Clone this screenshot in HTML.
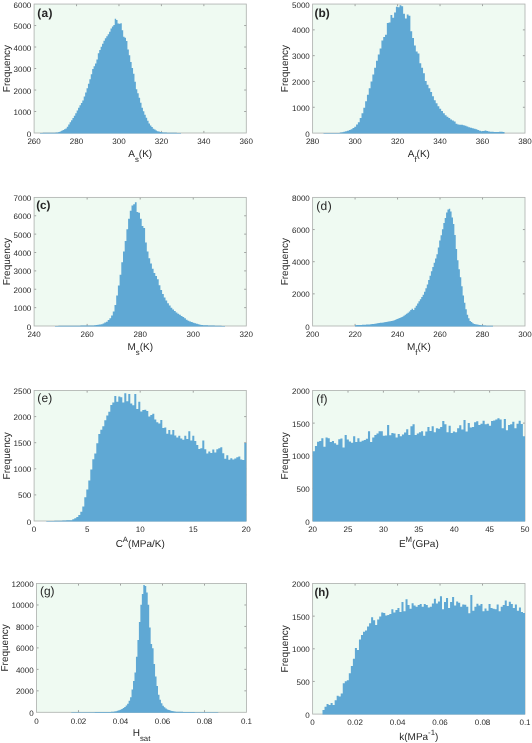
<!DOCTYPE html>
<html lang="en"><head><meta charset="utf-8"><title>Histograms</title>
<style>html,body{margin:0;padding:0;background:#fff;}body{width:532px;height:743px;overflow:hidden;}svg{display:block;}text{font-family:"Liberation Sans", sans-serif;fill:#262626;text-rendering:geometricPrecision;}</style>
</head><body>
<svg width="532" height="743" viewBox="0 0 532 743">
<rect x="0" y="0" width="532" height="743" fill="#ffffff"/>
<g>
<rect x="34.10" y="4.05" width="212.20" height="128.95" fill="#effaf2"/>
<path d="M76.54,133.00V130.90M76.54,4.05V6.15M118.98,133.00V130.90M118.98,4.05V6.15M161.42,133.00V130.90M161.42,4.05V6.15M203.86,133.00V130.90M203.86,4.05V6.15M34.10,111.51H36.20M246.30,111.51H244.20M34.10,90.02H36.20M246.30,90.02H244.20M34.10,68.53H36.20M246.30,68.53H244.20M34.10,47.03H36.20M246.30,47.03H244.20M34.10,25.54H36.20M246.30,25.54H244.20" stroke="#858585" stroke-width="0.75" fill="none"/>
<rect x="34.10" y="4.05" width="212.20" height="128.95" fill="none" stroke="#b0b3b1" stroke-width="0.85"/>
<path d="M40.00,133.40L40.00,132.90L41.41,132.90L41.41,132.88L42.82,132.88L42.82,132.87L44.23,132.87L44.23,132.85L45.64,132.85L45.64,132.84L47.05,132.84L47.05,132.83L48.46,132.83L48.46,132.81L49.87,132.81L49.87,132.79L51.28,132.79L51.28,132.74L52.69,132.74L52.69,132.68L54.10,132.68L54.10,132.63L55.51,132.63L55.51,132.57L56.92,132.57L56.92,132.51L58.33,132.51L58.33,132.06L59.74,132.06L59.74,131.46L61.15,131.46L61.15,130.86L62.56,130.86L62.56,130.09L63.97,130.09L63.97,129.29L65.38,129.29L65.38,128.49L66.79,128.49L66.79,126.76L68.20,126.76L68.20,124.50L69.61,124.50L69.61,122.27L71.02,122.27L71.02,120.13L72.43,120.13L72.43,117.99L73.84,117.99L73.84,115.84L75.25,115.84L75.25,113.31L76.66,113.31L76.66,110.53L78.07,110.53L78.07,107.74L79.48,107.74L79.48,105.26L80.89,105.26L80.89,102.88L82.30,102.88L82.30,100.49L83.71,100.49L83.71,96.56L85.12,96.56L85.12,92.62L86.53,92.62L86.53,88.33L87.94,88.33L87.94,83.84L89.35,83.84L89.35,79.17L90.76,79.17L90.76,74.13L92.17,74.13L92.17,69.09L93.58,69.09L93.58,66.23L94.99,66.23L94.99,63.41L96.40,63.41L96.40,59.43L97.81,59.43L97.81,53.37L99.22,53.37L99.22,50.02L100.63,50.02L100.63,46.85L102.04,46.85L102.04,43.74L103.45,43.74L103.45,40.65L104.86,40.65L104.86,38.37L106.27,38.37L106.27,36.35L107.68,36.35L107.68,34.33L109.09,34.33L109.09,31.72L110.50,31.72L110.50,28.52L111.91,28.52L111.91,26.41L113.32,26.41L113.32,24.89L114.73,24.89L114.73,18.82L116.14,18.82L116.14,20.10L117.55,20.10L117.55,23.57L118.96,23.57L118.96,23.64L120.37,23.64L120.37,23.31L121.78,23.31L121.78,30.19L123.19,30.19L123.19,36.80L124.60,36.80L124.60,37.76L126.01,37.76L126.01,40.93L127.42,40.93L127.42,49.50L128.83,49.50L128.83,55.17L130.24,55.17L130.24,62.00L131.65,62.00L131.65,67.92L133.06,67.92L133.06,73.82L134.47,73.82L134.47,81.67L135.88,81.67L135.88,89.24L137.29,89.24L137.29,93.37L138.70,93.37L138.70,97.69L140.11,97.69L140.11,102.73L141.52,102.73L141.52,107.77L142.93,107.77L142.93,111.36L144.34,111.36L144.34,114.73L145.75,114.73L145.75,117.83L147.16,117.83L147.16,120.69L148.57,120.69L148.57,123.54L149.98,123.54L149.98,125.45L151.39,125.45L151.39,127.07L152.80,127.07L152.80,128.69L154.21,128.69L154.21,129.61L155.62,129.61L155.62,130.48L157.03,130.48L157.03,131.25L158.44,131.25L158.44,131.57L159.85,131.57L159.85,131.89L161.26,131.89L161.26,132.21L162.67,132.21L162.67,132.43L164.08,132.43L164.08,132.50L165.49,132.50L165.49,132.57L166.90,132.57L166.90,132.64L168.31,132.64L168.31,132.71L169.72,132.71L169.72,132.79L171.13,132.79L171.13,132.82L172.54,132.82L172.54,132.83L173.95,132.83L173.95,132.85L175.36,132.85L175.36,132.87L176.77,132.87L176.77,132.89L178.18,132.89L178.18,132.91L179.59,132.91L179.59,132.93L181.00,132.93L181.00,133.40Z" fill="#5fa8d4"/>
<text x="34.10" y="144.20" font-size="8.0" text-anchor="middle">260</text>
<text x="76.54" y="144.20" font-size="8.0" text-anchor="middle">280</text>
<text x="118.98" y="144.20" font-size="8.0" text-anchor="middle">300</text>
<text x="161.42" y="144.20" font-size="8.0" text-anchor="middle">320</text>
<text x="203.86" y="144.20" font-size="8.0" text-anchor="middle">340</text>
<text x="246.30" y="144.20" font-size="8.0" text-anchor="middle">360</text>
<text x="31.30" y="136.50" font-size="8.0" text-anchor="end">0</text>
<text x="31.30" y="115.01" font-size="8.0" text-anchor="end">1000</text>
<text x="31.30" y="93.52" font-size="8.0" text-anchor="end">2000</text>
<text x="31.30" y="72.03" font-size="8.0" text-anchor="end">3000</text>
<text x="31.30" y="50.53" font-size="8.0" text-anchor="end">4000</text>
<text x="31.30" y="29.04" font-size="8.0" text-anchor="end">5000</text>
<text x="31.30" y="7.55" font-size="8.0" text-anchor="end">6000</text>
<text transform="translate(9.60,68.53) rotate(-90)" font-size="10.0" text-anchor="middle">Frequency</text>
<text x="128.25" y="156.50" font-size="10.0">A</text>
<text x="134.92" y="161.50" font-size="7.8">s</text>
<text x="138.82" y="156.50" font-size="10.0">(K)</text>
<text x="37.20" y="16.60" font-size="11.9" font-weight="bold" letter-spacing="0.4">(a)</text>
</g>
<g>
<rect x="312.60" y="4.05" width="212.40" height="129.05" fill="#effaf2"/>
<path d="M355.08,133.10V131.00M355.08,4.05V6.15M397.56,133.10V131.00M397.56,4.05V6.15M440.04,133.10V131.00M440.04,4.05V6.15M482.52,133.10V131.00M482.52,4.05V6.15M312.60,107.29H314.70M525.00,107.29H522.90M312.60,81.48H314.70M525.00,81.48H522.90M312.60,55.67H314.70M525.00,55.67H522.90M312.60,29.86H314.70M525.00,29.86H522.90" stroke="#858585" stroke-width="0.75" fill="none"/>
<rect x="312.60" y="4.05" width="212.40" height="129.05" fill="none" stroke="#b0b3b1" stroke-width="0.85"/>
<path d="M323.50,133.50L323.50,133.11L325.31,133.11L325.31,133.09L327.12,133.09L327.12,133.06L328.93,133.06L328.93,133.04L330.74,133.04L330.74,133.01L332.55,133.01L332.55,132.99L334.36,132.99L334.36,132.96L336.17,132.96L336.17,132.93L337.98,132.93L337.98,132.91L339.79,132.91L339.79,132.61L341.60,132.61L341.60,132.19L343.41,132.19L343.41,131.78L345.22,131.78L345.22,131.36L347.03,131.36L347.03,130.71L348.84,130.71L348.84,130.06L350.65,130.06L350.65,129.32L352.46,129.32L352.46,128.07L354.27,128.07L354.27,126.82L356.08,126.82L356.08,124.48L357.89,124.48L357.89,122.13L359.70,122.13L359.70,118.03L361.51,118.03L361.51,113.13L363.32,113.13L363.32,107.63L365.13,107.63L365.13,101.25L366.94,101.25L366.94,94.78L368.75,94.78L368.75,88.25L370.56,88.25L370.56,81.59L372.37,81.59L372.37,74.55L374.18,74.55L374.18,67.87L375.99,67.87L375.99,60.76L377.80,60.76L377.80,54.54L379.61,54.54L379.61,48.55L381.42,48.55L381.42,40.55L383.23,40.55L383.23,36.93L385.04,36.93L385.04,34.83L386.85,34.83L386.85,23.00L388.66,23.00L388.66,22.40L390.47,22.40L390.47,15.10L392.28,15.10L392.28,17.80L394.09,17.80L394.09,12.50L395.90,12.50L395.90,6.80L397.71,6.80L397.71,7.20L399.52,7.20L399.52,5.30L401.33,5.30L401.33,6.20L403.14,6.20L403.14,13.80L404.95,13.80L404.95,18.40L406.76,18.40L406.76,14.50L408.57,14.50L408.57,15.80L410.38,15.80L410.38,31.33L412.19,31.33L412.19,37.93L414.00,37.93L414.00,45.39L415.81,45.39L415.81,51.50L417.62,51.50L417.62,53.48L419.43,53.48L419.43,63.29L421.24,63.29L421.24,67.63L423.05,67.63L423.05,73.15L424.86,73.15L424.86,81.03L426.67,81.03L426.67,84.65L428.48,84.65L428.48,88.27L430.29,88.27L430.29,92.01L432.10,92.01L432.10,96.34L433.91,96.34L433.91,100.24L435.72,100.24L435.72,103.30L437.53,103.30L437.53,106.24L439.34,106.24L439.34,108.64L441.15,108.64L441.15,111.04L442.96,111.04L442.96,113.18L444.77,113.18L444.77,115.32L446.58,115.32L446.58,116.79L448.39,116.79L448.39,118.12L450.20,118.12L450.20,119.46L452.01,119.46L452.01,120.52L453.82,120.52L453.82,121.56L455.63,121.56L455.63,123.83L457.44,123.83L457.44,124.46L459.25,124.46L459.25,124.66L461.06,124.66L461.06,124.85L462.87,124.85L462.87,125.14L464.68,125.14L464.68,125.82L466.49,125.82L466.49,126.51L468.30,126.51L468.30,127.15L470.11,127.15L470.11,127.68L471.92,127.68L471.92,128.21L473.73,128.21L473.73,128.73L475.54,128.73L475.54,129.35L477.35,129.35L477.35,130.01L479.16,130.01L479.16,130.67L480.97,130.67L480.97,131.29L482.78,131.29L482.78,130.92L484.59,130.92L484.59,130.56L486.40,130.56L486.40,130.92L488.21,130.92L488.21,131.44L490.02,131.44L490.02,131.69L491.83,131.69L491.83,131.83L493.64,131.83L493.64,131.97L495.45,131.97L495.45,132.11L497.26,132.11L497.26,132.11L499.07,132.11L499.07,131.83L500.88,131.83L500.88,131.64L502.69,131.64L502.69,132.00L504.50,132.00L504.50,133.50Z" fill="#5fa8d4"/>
<text x="312.60" y="144.30" font-size="8.0" text-anchor="middle">280</text>
<text x="355.08" y="144.30" font-size="8.0" text-anchor="middle">300</text>
<text x="397.56" y="144.30" font-size="8.0" text-anchor="middle">320</text>
<text x="440.04" y="144.30" font-size="8.0" text-anchor="middle">340</text>
<text x="482.52" y="144.30" font-size="8.0" text-anchor="middle">360</text>
<text x="525.00" y="144.30" font-size="8.0" text-anchor="middle">380</text>
<text x="309.80" y="136.60" font-size="8.0" text-anchor="end">0</text>
<text x="309.80" y="110.79" font-size="8.0" text-anchor="end">1000</text>
<text x="309.80" y="84.98" font-size="8.0" text-anchor="end">2000</text>
<text x="309.80" y="59.17" font-size="8.0" text-anchor="end">3000</text>
<text x="309.80" y="33.36" font-size="8.0" text-anchor="end">4000</text>
<text x="309.80" y="7.55" font-size="8.0" text-anchor="end">5000</text>
<text transform="translate(288.10,68.58) rotate(-90)" font-size="10.0" text-anchor="middle">Frequency</text>
<text x="407.72" y="156.60" font-size="10.0">A</text>
<text x="414.39" y="161.60" font-size="7.8">f</text>
<text x="416.55" y="156.60" font-size="10.0">(K)</text>
<text x="314.60" y="16.80" font-size="11.9" font-weight="bold">(b)</text>
</g>
<g>
<rect x="34.10" y="197.40" width="212.20" height="128.60" fill="#effaf2"/>
<path d="M87.15,326.00V323.90M87.15,197.40V199.50M140.20,326.00V323.90M140.20,197.40V199.50M193.25,326.00V323.90M193.25,197.40V199.50M34.10,307.63H36.20M246.30,307.63H244.20M34.10,289.26H36.20M246.30,289.26H244.20M34.10,270.89H36.20M246.30,270.89H244.20M34.10,252.51H36.20M246.30,252.51H244.20M34.10,234.14H36.20M246.30,234.14H244.20M34.10,215.77H36.20M246.30,215.77H244.20" stroke="#858585" stroke-width="0.75" fill="none"/>
<rect x="34.10" y="197.40" width="212.20" height="128.60" fill="none" stroke="#b0b3b1" stroke-width="0.85"/>
<path d="M55.00,326.40L55.00,325.90L56.70,325.90L56.70,325.88L58.40,325.88L58.40,325.86L60.10,325.86L60.10,325.85L61.80,325.85L61.80,325.83L63.50,325.83L63.50,325.81L65.20,325.81L65.20,325.79L66.90,325.79L66.90,325.78L68.60,325.78L68.60,325.76L70.30,325.76L70.30,325.74L72.00,325.74L72.00,325.73L73.70,325.73L73.70,325.71L75.40,325.71L75.40,325.69L77.10,325.69L77.10,325.66L78.80,325.66L78.80,325.63L80.50,325.63L80.50,325.60L82.20,325.60L82.20,325.58L83.90,325.58L83.90,325.55L85.60,325.55L85.60,325.52L87.30,325.52L87.30,325.49L89.00,325.49L89.00,325.46L90.70,325.46L90.70,325.44L92.40,325.44L92.40,325.41L94.10,325.41L94.10,325.24L95.80,325.24L95.80,325.02L97.50,325.02L97.50,324.80L99.20,324.80L99.20,324.59L100.90,324.59L100.90,324.28L102.60,324.28L102.60,323.44L104.30,323.44L104.30,322.61L106.00,322.61L106.00,321.75L107.70,321.75L107.70,320.05L109.40,320.05L109.40,318.35L111.10,318.35L111.10,315.50L112.80,315.50L112.80,311.61L114.50,311.61L114.50,304.90L116.20,304.90L116.20,295.58L117.90,295.58L117.90,285.57L119.60,285.57L119.60,274.77L121.30,274.77L121.30,262.27L123.00,262.27L123.00,251.60L124.70,251.60L124.70,241.10L126.40,241.10L126.40,229.20L128.10,229.20L128.10,218.70L129.80,218.70L129.80,210.80L131.50,210.80L131.50,205.50L133.20,205.50L133.20,204.20L134.90,204.20L134.90,202.20L136.60,202.20L136.60,212.10L138.30,212.10L138.30,212.80L140.00,212.80L140.00,218.70L141.70,218.70L141.70,225.90L143.40,225.90L143.40,227.90L145.10,227.90L145.10,242.60L146.80,242.60L146.80,251.60L148.50,251.60L148.50,258.20L150.20,258.20L150.20,263.40L151.90,263.40L151.90,268.63L153.60,268.63L153.60,273.07L155.30,273.07L155.30,275.95L157.00,275.95L157.00,279.28L158.70,279.28L158.70,285.30L160.40,285.30L160.40,290.02L162.10,290.02L162.10,293.93L163.80,293.93L163.80,297.56L165.50,297.56L165.50,300.44L167.20,300.44L167.20,303.32L168.90,303.32L168.90,305.55L170.60,305.55L170.60,307.75L172.30,307.75L172.30,309.53L174.00,309.53L174.00,311.03L175.70,311.03L175.70,312.54L177.40,312.54L177.40,313.79L179.10,313.79L179.10,314.85L180.80,314.85L180.80,315.91L182.50,315.91L182.50,317.07L184.20,317.07L184.20,318.35L185.90,318.35L185.90,319.63L187.60,319.63L187.60,320.72L189.30,320.72L189.30,321.40L191.00,321.40L191.00,322.08L192.70,322.08L192.70,322.76L194.40,322.76L194.40,323.34L196.10,323.34L196.10,323.83L197.80,323.83L197.80,324.32L199.50,324.32L199.50,324.81L201.20,324.81L201.20,325.06L202.90,325.06L202.90,325.14L204.60,325.14L204.60,325.23L206.30,325.23L206.30,325.32L208.00,325.32L208.00,325.41L209.70,325.41L209.70,325.50L211.40,325.50L211.40,325.56L213.10,325.56L213.10,325.62L214.80,325.62L214.80,325.67L216.50,325.67L216.50,325.73L218.20,325.73L218.20,325.78L219.90,325.78L219.90,325.84L221.60,325.84L221.60,325.90L223.30,325.90L223.30,325.91L225.00,325.91L225.00,326.40Z" fill="#5fa8d4"/>
<text x="34.10" y="337.20" font-size="8.0" text-anchor="middle">240</text>
<text x="87.15" y="337.20" font-size="8.0" text-anchor="middle">260</text>
<text x="140.20" y="337.20" font-size="8.0" text-anchor="middle">280</text>
<text x="193.25" y="337.20" font-size="8.0" text-anchor="middle">300</text>
<text x="246.30" y="337.20" font-size="8.0" text-anchor="middle">320</text>
<text x="31.30" y="329.50" font-size="8.0" text-anchor="end">0</text>
<text x="31.30" y="311.13" font-size="8.0" text-anchor="end">1000</text>
<text x="31.30" y="292.76" font-size="8.0" text-anchor="end">2000</text>
<text x="31.30" y="274.39" font-size="8.0" text-anchor="end">3000</text>
<text x="31.30" y="256.01" font-size="8.0" text-anchor="end">4000</text>
<text x="31.30" y="237.64" font-size="8.0" text-anchor="end">5000</text>
<text x="31.30" y="219.27" font-size="8.0" text-anchor="end">6000</text>
<text x="31.30" y="200.90" font-size="8.0" text-anchor="end">7000</text>
<text transform="translate(9.60,261.70) rotate(-90)" font-size="10.0" text-anchor="middle">Frequency</text>
<text x="127.42" y="349.50" font-size="10.0">M</text>
<text x="135.75" y="354.50" font-size="7.8">s</text>
<text x="139.65" y="349.50" font-size="10.0">(K)</text>
<text x="36.20" y="208.60" font-size="11.7" font-weight="bold">(c)</text>
</g>
<g>
<rect x="312.60" y="197.40" width="212.40" height="128.60" fill="#effaf2"/>
<path d="M355.08,326.00V323.90M355.08,197.40V199.50M397.56,326.00V323.90M397.56,197.40V199.50M440.04,326.00V323.90M440.04,197.40V199.50M482.52,326.00V323.90M482.52,197.40V199.50M312.60,293.85H314.70M525.00,293.85H522.90M312.60,261.70H314.70M525.00,261.70H522.90M312.60,229.55H314.70M525.00,229.55H522.90" stroke="#858585" stroke-width="0.75" fill="none"/>
<rect x="312.60" y="197.40" width="212.40" height="128.60" fill="none" stroke="#b0b3b1" stroke-width="0.85"/>
<path d="M355.00,326.40L355.00,325.19L356.38,325.19L356.38,325.11L357.76,325.11L357.76,325.04L359.14,325.04L359.14,324.96L360.52,324.96L360.52,324.89L361.90,324.89L361.90,324.81L363.28,324.81L363.28,324.74L364.66,324.74L364.66,324.66L366.04,324.66L366.04,324.59L367.42,324.59L367.42,324.51L368.80,324.51L368.80,324.44L370.18,324.44L370.18,324.30L371.56,324.30L371.56,324.09L372.94,324.09L372.94,323.88L374.32,323.88L374.32,323.67L375.70,323.67L375.70,323.46L377.08,323.46L377.08,323.25L378.46,323.25L378.46,323.04L379.84,323.04L379.84,322.83L381.22,322.83L381.22,322.63L382.60,322.63L382.60,322.42L383.98,322.42L383.98,322.17L385.36,322.17L385.36,321.92L386.74,321.92L386.74,321.67L388.12,321.67L388.12,321.42L389.50,321.42L389.50,321.17L390.88,321.17L390.88,320.92L392.26,320.92L392.26,320.67L393.64,320.67L393.64,320.31L395.02,320.31L395.02,319.71L396.40,319.71L396.40,319.11L397.78,319.11L397.78,318.51L399.16,318.51L399.16,317.91L400.54,317.91L400.54,317.31L401.92,317.31L401.92,316.71L403.30,316.71L403.30,315.85L404.68,315.85L404.68,314.83L406.06,314.83L406.06,313.81L407.44,313.81L407.44,312.80L408.82,312.80L408.82,311.40L410.20,311.40L410.20,309.91L411.58,309.91L411.58,308.79L412.96,308.79L412.96,309.97L414.34,309.97L414.34,307.87L415.72,307.87L415.72,305.73L417.10,305.73L417.10,303.54L418.48,303.54L418.48,301.35L419.86,301.35L419.86,299.16L421.24,299.16L421.24,296.99L422.62,296.99L422.62,294.81L424.00,294.81L424.00,291.76L425.38,291.76L425.38,288.35L426.76,288.35L426.76,284.53L428.14,284.53L428.14,280.10L429.52,280.10L429.52,275.67L430.90,275.67L430.90,271.28L432.28,271.28L432.28,266.89L433.66,266.89L433.66,262.65L435.04,262.65L435.04,258.51L436.42,258.51L436.42,254.14L437.80,254.14L437.80,247.43L439.18,247.43L439.18,240.55L440.56,240.55L440.56,235.14L441.94,235.14L441.94,229.36L443.32,229.36L443.32,223.01L444.70,223.01L444.70,218.12L446.08,218.12L446.08,212.51L447.46,212.51L447.46,209.46L448.84,209.46L448.84,208.87L450.22,208.87L450.22,211.51L451.60,211.51L451.60,217.48L452.98,217.48L452.98,223.92L454.36,223.92L454.36,235.07L455.74,235.07L455.74,248.88L457.12,248.88L457.12,260.30L458.50,260.30L458.50,269.14L459.88,269.14L459.88,277.28L461.26,277.28L461.26,286.21L462.64,286.21L462.64,295.41L464.02,295.41L464.02,302.65L465.40,302.65L465.40,309.25L466.78,309.25L466.78,314.84L468.16,314.84L468.16,318.34L469.54,318.34L469.54,320.94L470.92,320.94L470.92,322.08L472.30,322.08L472.30,323.21L473.68,323.21L473.68,323.94L475.06,323.94L475.06,324.22L476.44,324.22L476.44,324.51L477.82,324.51L477.82,324.79L479.20,324.79L479.20,325.07L480.58,325.07L480.58,325.26L481.96,325.26L481.96,325.36L483.34,325.36L483.34,325.46L484.72,325.46L484.72,325.57L486.10,325.57L486.10,325.67L487.48,325.67L487.48,325.78L488.86,325.78L488.86,325.82L490.24,325.82L490.24,325.84L491.62,325.84L491.62,325.86L493.00,325.86L493.00,326.40Z" fill="#5fa8d4"/>
<text x="312.60" y="337.20" font-size="8.0" text-anchor="middle">200</text>
<text x="355.08" y="337.20" font-size="8.0" text-anchor="middle">220</text>
<text x="397.56" y="337.20" font-size="8.0" text-anchor="middle">240</text>
<text x="440.04" y="337.20" font-size="8.0" text-anchor="middle">260</text>
<text x="482.52" y="337.20" font-size="8.0" text-anchor="middle">280</text>
<text x="525.00" y="337.20" font-size="8.0" text-anchor="middle">300</text>
<text x="309.80" y="329.50" font-size="8.0" text-anchor="end">0</text>
<text x="309.80" y="297.35" font-size="8.0" text-anchor="end">2000</text>
<text x="309.80" y="265.20" font-size="8.0" text-anchor="end">4000</text>
<text x="309.80" y="233.05" font-size="8.0" text-anchor="end">6000</text>
<text x="309.80" y="200.90" font-size="8.0" text-anchor="end">8000</text>
<text transform="translate(288.10,261.70) rotate(-90)" font-size="10.0" text-anchor="middle">Frequency</text>
<text x="406.89" y="349.50" font-size="10.0">M</text>
<text x="415.22" y="354.50" font-size="7.8">f</text>
<text x="417.38" y="349.50" font-size="10.0">(K)</text>
<text x="316.20" y="210.30" font-size="12.0" letter-spacing="0.4">(d)</text>
</g>
<g>
<rect x="34.10" y="390.50" width="212.20" height="130.50" fill="#effaf2"/>
<path d="M87.15,521.00V518.90M87.15,390.50V392.60M140.20,521.00V518.90M140.20,390.50V392.60M193.25,521.00V518.90M193.25,390.50V392.60M34.10,494.90H36.20M246.30,494.90H244.20M34.10,468.80H36.20M246.30,468.80H244.20M34.10,442.70H36.20M246.30,442.70H244.20M34.10,416.60H36.20M246.30,416.60H244.20" stroke="#858585" stroke-width="0.75" fill="none"/>
<rect x="34.10" y="390.50" width="212.20" height="130.50" fill="none" stroke="#b0b3b1" stroke-width="0.85"/>
<path d="M46.30,521.40L46.30,520.99L48.30,520.99L48.30,520.96L50.30,520.96L50.30,520.93L52.30,520.93L52.30,520.89L54.30,520.89L54.30,520.86L56.30,520.86L56.30,520.82L58.30,520.82L58.30,520.76L60.30,520.76L60.30,520.66L62.30,520.66L62.30,520.56L64.30,520.56L64.30,520.46L66.30,520.46L66.30,520.36L68.30,520.36L68.30,520.26L70.30,520.26L70.30,520.20L72.30,520.20L72.30,519.30L74.30,519.30L74.30,518.20L76.30,518.20L76.30,517.00L78.30,517.00L78.30,515.00L80.30,515.00L80.30,511.80L82.30,511.80L82.30,506.40L84.30,506.40L84.30,497.20L86.30,497.20L86.30,489.60L88.30,489.60L88.30,480.40L90.30,480.40L90.30,469.40L92.30,469.40L92.30,459.20L94.30,459.20L94.30,453.50L96.30,453.50L96.30,443.30L98.30,443.30L98.30,434.10L100.30,434.10L100.30,429.80L102.30,429.80L102.30,426.20L104.30,426.20L104.30,420.20L106.30,420.20L106.30,415.60L108.30,415.60L108.30,411.70L110.30,411.70L110.30,405.10L112.30,405.10L112.30,402.50L114.30,402.50L114.30,395.90L116.30,395.90L116.30,401.80L118.30,401.80L118.30,396.60L120.30,396.60L120.30,397.20L122.30,397.20L122.30,402.50L124.30,402.50L124.30,393.30L126.30,393.30L126.30,401.20L128.30,401.20L128.30,393.90L130.30,393.90L130.30,403.50L132.30,403.50L132.30,405.20L134.30,405.20L134.30,393.90L136.30,393.90L136.30,409.00L138.30,409.00L138.30,401.80L140.30,401.80L140.30,411.50L142.30,411.50L142.30,410.00L144.30,410.00L144.30,409.70L146.30,409.70L146.30,411.00L148.30,411.00L148.30,416.50L150.30,416.50L150.30,415.00L152.30,415.00L152.30,413.70L154.30,413.70L154.30,419.50L156.30,419.50L156.30,422.30L158.30,422.30L158.30,423.60L160.30,423.60L160.30,420.00L162.30,420.00L162.30,427.90L164.30,427.90L164.30,427.50L166.30,427.50L166.30,433.80L168.30,433.80L168.30,429.90L170.30,429.90L170.30,434.50L172.30,434.50L172.30,429.90L174.30,429.90L174.30,435.50L176.30,435.50L176.30,437.40L178.30,437.40L178.30,435.80L180.30,435.80L180.30,438.50L182.30,438.50L182.30,439.70L184.30,439.70L184.30,435.80L186.30,435.80L186.30,439.00L188.30,439.00L188.30,431.20L190.30,431.20L190.30,440.40L192.30,440.40L192.30,435.80L194.30,435.80L194.30,441.00L196.30,441.00L196.30,445.00L198.30,445.00L198.30,449.00L200.30,449.00L200.30,448.30L202.30,448.30L202.30,440.40L204.30,440.40L204.30,449.30L206.30,449.30L206.30,453.50L208.30,453.50L208.30,451.40L210.30,451.40L210.30,452.90L212.30,452.90L212.30,449.60L214.30,449.60L214.30,452.60L216.30,452.60L216.30,449.30L218.30,449.30L218.30,448.20L220.30,448.20L220.30,447.20L222.30,447.20L222.30,453.20L224.30,453.20L224.30,458.80L226.30,458.80L226.30,455.30L228.30,455.30L228.30,459.70L230.30,459.70L230.30,458.20L232.30,458.20L232.30,459.60L234.30,459.60L234.30,458.50L236.30,458.50L236.30,457.20L238.30,457.20L238.30,456.40L240.30,456.40L240.30,459.50L242.30,459.50L242.30,460.00L244.30,460.00L244.30,443.00L246.30,443.00L246.30,521.40Z" fill="#5fa8d4"/>
<text x="34.10" y="532.20" font-size="8.0" text-anchor="middle">0</text>
<text x="87.15" y="532.20" font-size="8.0" text-anchor="middle">5</text>
<text x="140.20" y="532.20" font-size="8.0" text-anchor="middle">10</text>
<text x="193.25" y="532.20" font-size="8.0" text-anchor="middle">15</text>
<text x="246.30" y="532.20" font-size="8.0" text-anchor="middle">20</text>
<text x="31.30" y="524.50" font-size="8.0" text-anchor="end">0</text>
<text x="31.30" y="498.40" font-size="8.0" text-anchor="end">500</text>
<text x="31.30" y="472.30" font-size="8.0" text-anchor="end">1000</text>
<text x="31.30" y="446.20" font-size="8.0" text-anchor="end">1500</text>
<text x="31.30" y="420.10" font-size="8.0" text-anchor="end">2000</text>
<text x="31.30" y="394.00" font-size="8.0" text-anchor="end">2500</text>
<text transform="translate(9.60,455.75) rotate(-90)" font-size="10.0" text-anchor="middle">Frequency</text>
<text x="115.65" y="546.80" font-size="10.0">C</text>
<text x="122.87" y="542.30" font-size="7.8">A</text>
<text x="128.08" y="546.80" font-size="10.0">(MPa/K)</text>
<text x="37.20" y="402.10" font-size="12.0" letter-spacing="0.2">(e)</text>
</g>
<g>
<rect x="312.60" y="390.50" width="212.40" height="130.50" fill="#effaf2"/>
<path d="M348.00,521.00V518.90M348.00,390.50V392.60M383.40,521.00V518.90M383.40,390.50V392.60M418.80,521.00V518.90M418.80,390.50V392.60M454.20,521.00V518.90M454.20,390.50V392.60M489.60,521.00V518.90M489.60,390.50V392.60M312.60,488.38H314.70M525.00,488.38H522.90M312.60,455.75H314.70M525.00,455.75H522.90M312.60,423.12H314.70M525.00,423.12H522.90" stroke="#858585" stroke-width="0.75" fill="none"/>
<rect x="312.60" y="390.50" width="212.40" height="130.50" fill="none" stroke="#b0b3b1" stroke-width="0.85"/>
<path d="M312.80,521.40L312.80,451.30L314.92,451.30L314.92,446.00L317.04,446.00L317.04,441.80L319.17,441.80L319.17,441.00L321.29,441.00L321.29,438.20L323.41,438.20L323.41,446.70L325.53,446.70L325.53,437.50L327.65,437.50L327.65,438.20L329.78,438.20L329.78,442.10L331.90,442.10L331.90,441.00L334.02,441.00L334.02,443.20L336.14,443.20L336.14,444.70L338.26,444.70L338.26,439.20L340.39,439.20L340.39,438.50L342.51,438.50L342.51,447.60L344.63,447.60L344.63,434.90L346.75,434.90L346.75,439.50L348.87,439.50L348.87,441.40L351.00,441.40L351.00,442.80L353.12,442.80L353.12,436.20L355.24,436.20L355.24,442.10L357.36,442.10L357.36,438.20L359.48,438.20L359.48,441.80L361.61,441.80L361.61,440.80L363.73,440.80L363.73,440.10L365.85,440.10L365.85,438.80L367.97,438.80L367.97,431.30L370.09,431.30L370.09,442.10L372.22,442.10L372.22,437.50L374.34,437.50L374.34,434.90L376.46,434.90L376.46,433.60L378.58,433.60L378.58,431.20L380.70,431.20L380.70,431.20L382.83,431.20L382.83,435.80L384.95,435.80L384.95,435.50L387.07,435.50L387.07,425.00L389.19,425.00L389.19,435.30L391.31,435.30L391.31,432.90L393.44,432.90L393.44,433.60L395.56,433.60L395.56,437.50L397.68,437.50L397.68,433.90L399.80,433.90L399.80,436.20L401.92,436.20L401.92,434.50L404.05,434.50L404.05,432.60L406.17,432.60L406.17,429.20L408.29,429.20L408.29,434.90L410.41,434.90L410.41,426.30L412.53,426.30L412.53,424.30L414.66,424.30L414.66,434.90L416.78,434.90L416.78,433.60L418.90,433.60L418.90,432.20L421.02,432.20L421.02,431.30L423.14,431.30L423.14,435.80L425.27,435.80L425.27,431.60L427.39,431.60L427.39,427.00L429.51,427.00L429.51,430.90L431.63,430.90L431.63,426.30L433.75,426.30L433.75,432.20L435.88,432.20L435.88,428.30L438.00,428.30L438.00,428.70L440.12,428.70L440.12,427.00L442.24,427.00L442.24,421.00L444.36,421.00L444.36,424.30L446.49,424.30L446.49,432.20L448.61,432.20L448.61,425.70L450.73,425.70L450.73,432.90L452.85,432.90L452.85,431.60L454.97,431.60L454.97,432.20L457.10,432.20L457.10,428.30L459.22,428.30L459.22,425.30L461.34,425.30L461.34,429.60L463.46,429.60L463.46,420.00L465.58,420.00L465.58,431.60L467.71,431.60L467.71,423.00L469.83,423.00L469.83,427.60L471.95,427.60L471.95,427.00L474.07,427.00L474.07,422.20L476.19,422.20L476.19,421.30L478.32,421.30L478.32,425.00L480.44,425.00L480.44,423.70L482.56,423.70L482.56,420.70L484.68,420.70L484.68,424.30L486.80,424.30L486.80,423.70L488.93,423.70L488.93,425.70L491.05,425.70L491.05,421.00L493.17,421.00L493.17,420.40L495.29,420.40L495.29,419.50L497.41,419.50L497.41,418.30L499.54,418.30L499.54,419.50L501.66,419.50L501.66,428.30L503.78,428.30L503.78,419.10L505.90,419.10L505.90,430.30L508.02,430.30L508.02,425.00L510.15,425.00L510.15,424.30L512.27,424.30L512.27,421.70L514.39,421.70L514.39,428.30L516.51,428.30L516.51,423.70L518.63,423.70L518.63,420.80L520.76,420.80L520.76,423.90L522.88,423.90L522.88,436.20L525.00,436.20L525.00,521.40Z" fill="#5fa8d4"/>
<text x="312.60" y="532.20" font-size="8.0" text-anchor="middle">20</text>
<text x="348.00" y="532.20" font-size="8.0" text-anchor="middle">25</text>
<text x="383.40" y="532.20" font-size="8.0" text-anchor="middle">30</text>
<text x="418.80" y="532.20" font-size="8.0" text-anchor="middle">35</text>
<text x="454.20" y="532.20" font-size="8.0" text-anchor="middle">40</text>
<text x="489.60" y="532.20" font-size="8.0" text-anchor="middle">45</text>
<text x="525.00" y="532.20" font-size="8.0" text-anchor="middle">50</text>
<text x="309.80" y="524.50" font-size="8.0" text-anchor="end">0</text>
<text x="309.80" y="491.88" font-size="8.0" text-anchor="end">500</text>
<text x="309.80" y="459.25" font-size="8.0" text-anchor="end">1000</text>
<text x="309.80" y="426.62" font-size="8.0" text-anchor="end">1500</text>
<text x="309.80" y="394.00" font-size="8.0" text-anchor="end">2000</text>
<text transform="translate(288.10,455.75) rotate(-90)" font-size="10.0" text-anchor="middle">Frequency</text>
<text x="398.88" y="546.80" font-size="10.0">E</text>
<text x="405.55" y="542.30" font-size="7.8">M</text>
<text x="412.05" y="546.80" font-size="10.0">(GPa)</text>
<text x="316.20" y="403.30" font-size="12.0">(f)</text>
</g>
<g>
<rect x="36.50" y="583.50" width="210.00" height="128.80" fill="#effaf2"/>
<path d="M78.50,712.30V710.20M78.50,583.50V585.60M120.50,712.30V710.20M120.50,583.50V585.60M162.50,712.30V710.20M162.50,583.50V585.60M204.50,712.30V710.20M204.50,583.50V585.60M36.50,690.83H38.60M246.50,690.83H244.40M36.50,669.37H38.60M246.50,669.37H244.40M36.50,647.90H38.60M246.50,647.90H244.40M36.50,626.43H38.60M246.50,626.43H244.40M36.50,604.97H38.60M246.50,604.97H244.40" stroke="#858585" stroke-width="0.75" fill="none"/>
<rect x="36.50" y="583.50" width="210.00" height="128.80" fill="none" stroke="#b0b3b1" stroke-width="0.85"/>
<path d="M71.28,712.70L71.28,712.23L72.75,712.23L72.75,712.22L74.22,712.22L74.22,712.22L75.69,712.22L75.69,712.22L77.16,712.22L77.16,712.22L78.63,712.22L78.63,712.21L80.10,712.21L80.10,712.21L81.57,712.21L81.57,712.21L83.04,712.21L83.04,712.20L84.51,712.20L84.51,712.20L85.98,712.20L85.98,712.19L87.45,712.19L87.45,712.18L88.92,712.18L88.92,712.17L90.39,712.17L90.39,712.15L91.86,712.15L91.86,712.14L93.33,712.14L93.33,712.13L94.80,712.13L94.80,712.12L96.27,712.12L96.27,712.10L97.74,712.10L97.74,712.09L99.21,712.09L99.21,712.08L100.68,712.08L100.68,712.07L102.15,712.07L102.15,712.05L103.62,712.05L103.62,712.04L105.09,712.04L105.09,712.03L106.56,712.03L106.56,712.02L108.03,712.02L108.03,712.01L109.50,712.01L109.50,711.92L110.97,711.92L110.97,711.79L112.44,711.79L112.44,711.66L113.91,711.66L113.91,711.52L115.38,711.52L115.38,711.36L116.85,711.36L116.85,710.83L118.32,710.83L118.32,710.30L119.79,710.30L119.79,709.78L121.26,709.78L121.26,709.02L122.73,709.02L122.73,708.00L124.20,708.00L124.20,706.98L125.67,706.98L125.67,705.38L127.14,705.38L127.14,703.64L128.61,703.64L128.61,700.83L130.08,700.83L130.08,697.24L131.55,697.24L131.55,689.56L133.02,689.56L133.02,681.03L134.49,681.03L134.49,672.52L135.96,672.52L135.96,656.66L137.43,656.66L137.43,640.00L138.90,640.00L138.90,622.00L140.37,622.00L140.37,604.80L141.84,604.80L141.84,594.10L143.31,594.10L143.31,585.10L144.78,585.10L144.78,585.90L146.25,585.90L146.25,592.40L147.72,592.40L147.72,604.80L149.19,604.80L149.19,627.60L150.66,627.60L150.66,644.00L152.13,644.00L152.13,648.35L153.60,648.35L153.60,663.88L155.07,663.88L155.07,676.61L156.54,676.61L156.54,686.00L158.01,686.00L158.01,694.68L159.48,694.68L159.48,699.67L160.95,699.67L160.95,703.17L162.42,703.17L162.42,705.77L163.89,705.77L163.89,707.24L165.36,707.24L165.36,708.48L166.83,708.48L166.83,709.59L168.30,709.59L168.30,710.06L169.77,710.06L169.77,710.54L171.24,710.54L171.24,710.93L172.71,710.93L172.71,711.21L174.18,711.21L174.18,711.49L175.65,711.49L175.65,711.64L177.12,711.64L177.12,711.69L178.59,711.69L178.59,711.75L180.06,711.75L180.06,711.81L181.53,711.81L181.53,711.87L183.00,711.87L183.00,711.93L184.47,711.93L184.47,711.99L185.94,711.99L185.94,712.02L187.41,712.02L187.41,712.04L188.88,712.04L188.88,712.05L190.35,712.05L190.35,712.07L191.82,712.07L191.82,712.09L193.29,712.09L193.29,712.11L194.76,712.11L194.76,712.13L196.23,712.13L196.23,712.15L197.70,712.15L197.70,712.17L199.17,712.17L199.17,712.19L200.64,712.19L200.64,712.20L202.11,712.20L202.11,712.20L203.58,712.20L203.58,712.21L205.05,712.21L205.05,712.21L206.52,712.21L206.52,712.21L207.99,712.21L207.99,712.22L209.46,712.22L209.46,712.22L210.93,712.22L210.93,712.22L212.40,712.22L212.40,712.23L213.87,712.23L213.87,712.23L215.34,712.23L215.34,712.23L216.81,712.23L216.81,712.23L218.28,712.23L218.28,712.70Z" fill="#5fa8d4"/>
<text x="36.50" y="723.50" font-size="8.0" text-anchor="middle">0</text>
<text x="78.50" y="723.50" font-size="8.0" text-anchor="middle">0.02</text>
<text x="120.50" y="723.50" font-size="8.0" text-anchor="middle">0.04</text>
<text x="162.50" y="723.50" font-size="8.0" text-anchor="middle">0.06</text>
<text x="204.50" y="723.50" font-size="8.0" text-anchor="middle">0.08</text>
<text x="246.50" y="723.50" font-size="8.0" text-anchor="middle">0.1</text>
<text x="33.70" y="715.80" font-size="8.0" text-anchor="end">0</text>
<text x="33.70" y="694.33" font-size="8.0" text-anchor="end">2000</text>
<text x="33.70" y="672.87" font-size="8.0" text-anchor="end">4000</text>
<text x="33.70" y="651.40" font-size="8.0" text-anchor="end">6000</text>
<text x="33.70" y="629.93" font-size="8.0" text-anchor="end">8000</text>
<text x="33.70" y="608.47" font-size="8.0" text-anchor="end">10000</text>
<text x="33.70" y="587.00" font-size="8.0" text-anchor="end">12000</text>
<text transform="translate(8.20,647.90) rotate(-90)" font-size="10.0" text-anchor="middle">Frequency</text>
<text x="132.69" y="735.80" font-size="10.0">H</text>
<text x="139.91" y="740.80" font-size="7.8">sat</text>
<text x="39.90" y="595.10" font-size="12.0">(g)</text>
</g>
<g>
<rect x="312.60" y="583.50" width="212.40" height="130.60" fill="#effaf2"/>
<path d="M355.08,714.10V712.00M355.08,583.50V585.60M397.56,714.10V712.00M397.56,583.50V585.60M440.04,714.10V712.00M440.04,583.50V585.60M482.52,714.10V712.00M482.52,583.50V585.60M312.60,681.45H314.70M525.00,681.45H522.90M312.60,648.80H314.70M525.00,648.80H522.90M312.60,616.15H314.70M525.00,616.15H522.90" stroke="#858585" stroke-width="0.75" fill="none"/>
<rect x="312.60" y="583.50" width="212.40" height="130.60" fill="none" stroke="#b0b3b1" stroke-width="0.85"/>
<path d="M322.50,714.50L322.50,710.10L324.52,710.10L324.52,706.80L326.55,706.80L326.55,704.00L328.57,704.00L328.57,704.90L330.60,704.90L330.60,702.90L332.62,702.90L332.62,704.90L334.65,704.90L334.65,700.30L336.68,700.30L336.68,695.70L338.70,695.70L338.70,696.60L340.73,696.60L340.73,693.40L342.75,693.40L342.75,683.20L344.77,683.20L344.77,681.20L346.80,681.20L346.80,680.30L348.82,680.30L348.82,673.30L350.85,673.30L350.85,666.00L352.88,666.00L352.88,658.80L354.90,658.80L354.90,648.00L356.93,648.00L356.93,650.00L358.95,650.00L358.95,639.60L360.98,639.60L360.98,635.00L363.00,635.00L363.00,631.70L365.02,631.70L365.02,630.40L367.05,630.40L367.05,626.40L369.07,626.40L369.07,623.20L371.10,623.20L371.10,617.20L373.12,617.20L373.12,620.30L375.15,620.30L375.15,625.10L377.18,625.10L377.18,619.50L379.20,619.50L379.20,616.60L381.23,616.60L381.23,612.60L383.25,612.60L383.25,612.90L385.27,612.90L385.27,615.50L387.30,615.50L387.30,615.00L389.32,615.00L389.32,613.90L391.35,613.90L391.35,609.30L393.38,609.30L393.38,612.60L395.40,612.60L395.40,610.00L397.43,610.00L397.43,608.00L399.45,608.00L399.45,612.00L401.48,612.00L401.48,602.10L403.50,602.10L403.50,611.30L405.52,611.30L405.52,599.20L407.55,599.20L407.55,605.00L409.57,605.00L409.57,608.70L411.60,608.70L411.60,603.20L413.62,603.20L413.62,605.40L415.65,605.40L415.65,606.70L417.68,606.70L417.68,605.00L419.70,605.00L419.70,604.10L421.73,604.10L421.73,606.70L423.75,606.70L423.75,604.10L425.77,604.10L425.77,605.00L427.80,605.00L427.80,607.60L429.82,607.60L429.82,606.70L431.85,606.70L431.85,603.40L433.88,603.40L433.88,598.80L435.90,598.80L435.90,603.40L437.93,603.40L437.93,601.40L439.95,601.40L439.95,596.20L441.98,596.20L441.98,609.30L444.00,609.30L444.00,602.10L446.02,602.10L446.02,597.90L448.05,597.90L448.05,608.00L450.07,608.00L450.07,602.10L452.10,602.10L452.10,597.10L454.12,597.10L454.12,605.40L456.15,605.40L456.15,601.40L458.17,601.40L458.17,602.80L460.20,602.80L460.20,606.70L462.23,606.70L462.23,604.50L464.25,604.50L464.25,604.70L466.27,604.70L466.27,606.70L468.30,606.70L468.30,613.30L470.32,613.30L470.32,594.90L472.35,594.90L472.35,610.70L474.38,610.70L474.38,606.70L476.40,606.70L476.40,603.70L478.42,603.70L478.42,605.40L480.45,605.40L480.45,604.10L482.48,604.10L482.48,611.30L484.50,611.30L484.50,608.40L486.52,608.40L486.52,610.70L488.55,610.70L488.55,604.10L490.57,604.10L490.57,608.00L492.60,608.00L492.60,608.70L494.62,608.70L494.62,609.30L496.65,609.30L496.65,604.50L498.67,604.50L498.67,611.30L500.70,611.30L500.70,606.70L502.73,606.70L502.73,605.00L504.75,605.00L504.75,600.50L506.77,600.50L506.77,606.00L508.80,606.00L508.80,601.80L510.82,601.80L510.82,604.10L512.85,604.10L512.85,608.00L514.88,608.00L514.88,604.50L516.90,604.50L516.90,610.70L518.92,610.70L518.92,607.40L520.95,607.40L520.95,612.00L522.98,612.00L522.98,613.00L525.00,613.00L525.00,714.50Z" fill="#5fa8d4"/>
<text x="312.60" y="725.30" font-size="8.0" text-anchor="middle">0</text>
<text x="355.08" y="725.30" font-size="8.0" text-anchor="middle">0.02</text>
<text x="397.56" y="725.30" font-size="8.0" text-anchor="middle">0.04</text>
<text x="440.04" y="725.30" font-size="8.0" text-anchor="middle">0.06</text>
<text x="482.52" y="725.30" font-size="8.0" text-anchor="middle">0.08</text>
<text x="525.00" y="725.30" font-size="8.0" text-anchor="middle">0.1</text>
<text x="309.80" y="717.60" font-size="8.0" text-anchor="end">0</text>
<text x="309.80" y="684.95" font-size="8.0" text-anchor="end">500</text>
<text x="309.80" y="652.30" font-size="8.0" text-anchor="end">1000</text>
<text x="309.80" y="619.65" font-size="8.0" text-anchor="end">1500</text>
<text x="309.80" y="587.00" font-size="8.0" text-anchor="end">2000</text>
<text transform="translate(288.10,648.80) rotate(-90)" font-size="10.0" text-anchor="middle">Frequency</text>
<text x="399.22" y="739.90" font-size="10.0">k(MPa</text>
<text x="428.11" y="735.40" font-size="7.8">-1</text>
<text x="435.05" y="739.90" font-size="10.0">)</text>
<text x="314.50" y="595.70" font-size="11.5" font-weight="bold">(h)</text>
</g>
</svg>
</body></html>
